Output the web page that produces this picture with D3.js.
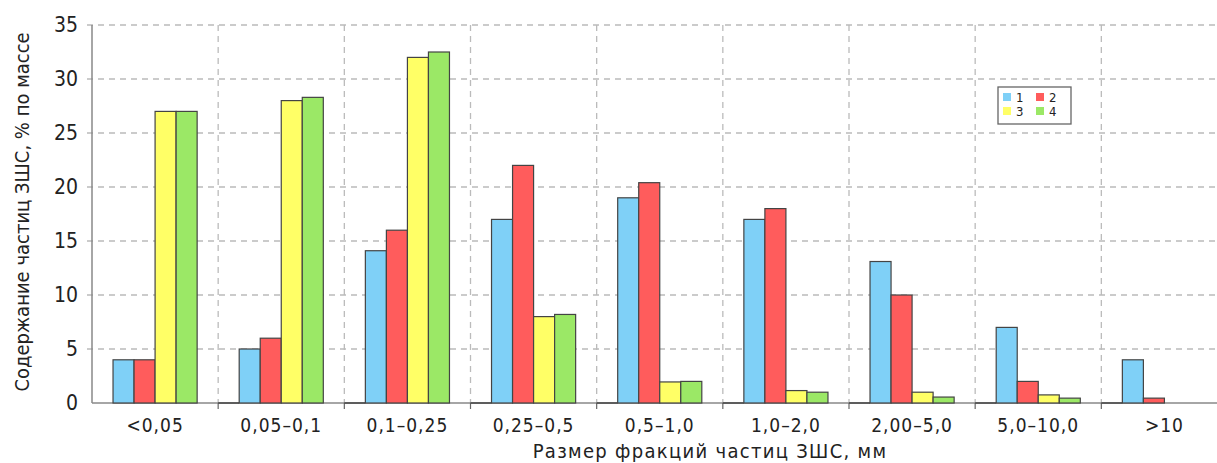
<!DOCTYPE html>
<html>
<head>
    <script src="https://cdn.jsdelivr.net/npm/d3@7"></script>
    <style>
        body { margin: 0; background: #fff; }
        #chart { display: block; }
        text { font-family: "DejaVu Sans Condensed", "DejaVu Sans", sans-serif; fill: #222; }
    </style>
</head>
<body>
<svg id="chart" width="1217" height="463"></svg>
<script>
    // fractions of particle size
    const categories = ["<0,05", "0,05–0,1", "0,1–0,25", "0,25–0,5", "0,5–1,0", "1,0–2,0", "2,00–5,0", "5,0–10,0", ">10"];
    const seriesNames = ["1", "2", "3", "4"];
    const series1 = [4, 5, 14.1, 17, 19, 17, 13.1, 7, 4];
    const series2 = [4, 6, 16, 22, 20.4, 18, 10, 2, 0.45];
    const series3 = [27, 28, 32, 8, 1.95, 1.15, 1, 0.75, 0];
    const series4 = [27, 28.3, 32.5, 8.2, 2, 1, 0.55, 0.45, 0];
    const yTicks = [0, 5, 10, 15, 20, 25, 30, 35];
    const colors = ["#7fd0f7", "#ff5c5c", "#ffff66", "#9be866"];

    const allSeries = [series1, series2, series3, series4];
    const margin = {left: 92, top: 25, bottom: 60};
    const width = 1217, height = 463;
    const plotRight = 1227.5;
    const y0 = height - margin.bottom;

    const svg = d3.select("#chart");

    const x = d3.scaleBand().domain(categories).range([margin.left, plotRight]).paddingInner(0).paddingOuter(0);
    const xInner = d3.scaleBand().domain(seriesNames).range([0, x.bandwidth()]).paddingOuter(1).paddingInner(0);
    const y = d3.scaleLinear().domain([0, 35]).range([y0, margin.top]);

    // horizontal grid
    svg.append("g").selectAll("line")
        .data(yTicks.filter(d => d > 0))
        .join("line")
        .attr("x1", margin.left - 5).attr("x2", width)
        .attr("y1", d => y(d)).attr("y2", d => y(d))
        .attr("stroke", "#bbb").attr("stroke-width", 1.3)
        .attr("stroke-dasharray", "6,5");

    // vertical grid at category boundaries
    svg.append("g").selectAll("line")
        .data(categories.slice(1))
        .join("line")
        .attr("x1", d => x(d)).attr("x2", d => x(d))
        .attr("y1", margin.top).attr("y2", y0)
        .attr("stroke", "#bbb").attr("stroke-width", 1.3)
        .attr("stroke-dasharray", "6,5");

    // x axis
    const xAxis = svg.append("g").attr("transform", `translate(0,${y0})`);
    xAxis.append("line").attr("x1", margin.left).attr("x2", width)
        .attr("stroke", "#888").attr("stroke-width", 1.5);
    xAxis.selectAll("line.tick")
        .data(categories.slice(1))
        .join("line").attr("class", "tick")
        .attr("x1", d => x(d)).attr("x2", d => x(d))
        .attr("y1", 0).attr("y2", 6)
        .attr("stroke", "#666").attr("stroke-width", 1.2);
    // darker stub left of each group (zero-height marks)
    xAxis.selectAll("line.stub")
        .data(categories.slice(1))
        .join("line").attr("class", "stub")
        .attr("x1", d => x(d)).attr("x2", d => x(d) + xInner("1"))
        .attr("stroke", "#444").attr("stroke-width", 1.5);
    xAxis.selectAll("text")
        .data(categories)
        .join("text")
        .attr("x", d => x(d) + x.bandwidth() / 2)
        .attr("y", 29)
        .attr("text-anchor", "middle")
        .attr("font-size", 19)
        .attr("letter-spacing", 1)
        .text(d => d);

    // y axis
    const yAxis = svg.append("g").attr("transform", `translate(${margin.left},0)`);
    yAxis.append("line").attr("y1", margin.top).attr("y2", y0)
        .attr("stroke", "#888").attr("stroke-width", 1.5);
    yAxis.selectAll("text")
        .data(yTicks)
        .join("text")
        .attr("x", -14)
        .attr("y", d => y(d))
        .attr("dy", "0.35em")
        .attr("text-anchor", "end")
        .attr("font-size", 21)
        .text(d => d);

    // bars
    const groups = svg.append("g").selectAll("g")
        .data(categories)
        .join("g")
        .attr("transform", d => `translate(${x(d)},0)`);

    groups.selectAll("rect")
        .data((d, i) => allSeries.map((s, k) => ({name: seriesNames[k], value: s[i], color: colors[k]})).filter(e => e.value > 0))
        .join("rect")
        .attr("x", d => xInner(d.name))
        .attr("width", xInner.bandwidth())
        .attr("y", d => y(d.value))
        .attr("height", d => y0 - y(d.value))
        .attr("fill", d => d.color)
        .attr("stroke", "#444")
        .attr("stroke-width", 1.2);

    // axis titles
    svg.append("text")
        .attr("x", 710).attr("y", 458)
        .attr("text-anchor", "middle")
        .attr("font-size", 20)
        .attr("letter-spacing", 1.3)
        .text("Размер фракций частиц ЗШС, мм");

    svg.append("text")
        .attr("transform", "translate(29,212) rotate(-90)")
        .attr("text-anchor", "middle")
        .attr("font-size", 20)
        .text("Содержание частиц ЗШС, % по массе");

    // legend
    const legend = svg.append("g").attr("transform", "translate(998,87)");
    legend.append("rect").attr("width", 73).attr("height", 37)
        .attr("fill", "#fff").attr("stroke", "#666").attr("stroke-width", 1.3);
    const items = legend.selectAll("g")
        .data(seriesNames)
        .join("g")
        .attr("transform", (d, i) => `translate(${5 + (i % 2) * 33},${6 + Math.floor(i / 2) * 14})`);
    items.append("rect").attr("width", 8).attr("height", 8)
        .attr("fill", (d, i) => colors[i]);
    items.append("text").attr("x", 13).attr("y", 4).attr("dy", "0.36em")
        .attr("font-size", 13).text(d => d);
</script>
</body>
</html>
